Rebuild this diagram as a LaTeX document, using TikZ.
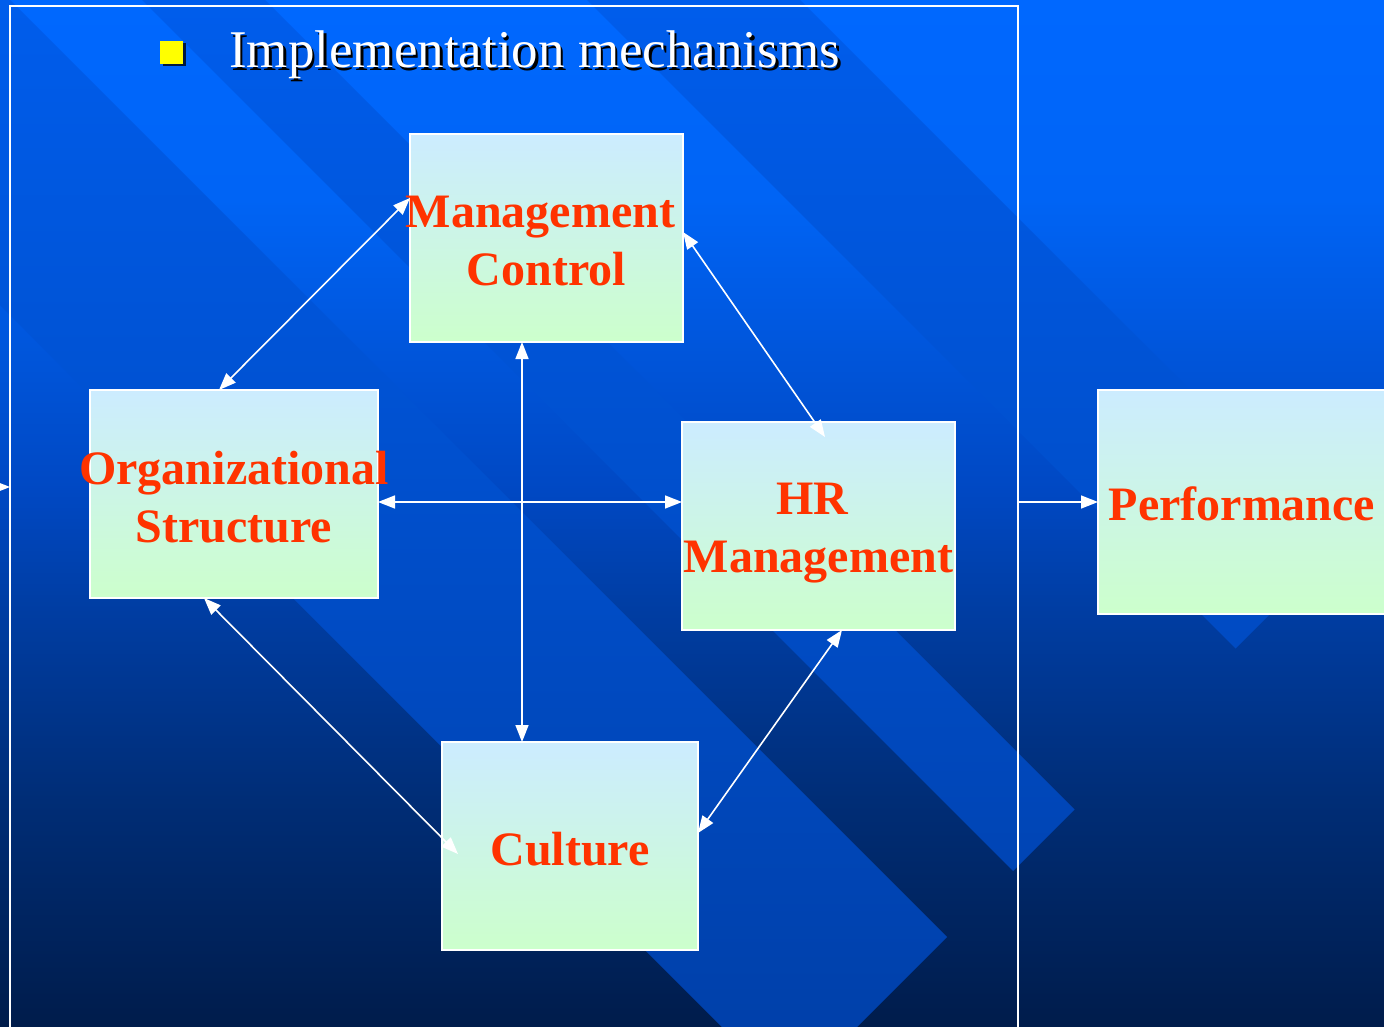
\documentclass[tikz,border=0pt]{standalone}
\usepackage{fontspec}
\setmainfont{Liberation Serif}
\usetikzlibrary{arrows.meta}
\definecolor{bgA}{RGB}{0,104,255}
\definecolor{bgB}{RGB}{0,100,245}
\definecolor{bgC}{RGB}{0,72,195}
\definecolor{bgD}{RGB}{0,62,165}
\definecolor{bgE}{RGB}{0,45,118}
\definecolor{bgF}{RGB}{0,28,75}
\definecolor{bandT}{RGB}{0,93,236}
\definecolor{bandB}{RGB}{0,64,170}
\definecolor{boxT}{RGB}{204,236,255}
\definecolor{boxB}{RGB}{204,255,204}
\definecolor{txtred}{RGB}{255,51,0}
\definecolor{bullety}{RGB}{255,255,0}
\pgfdeclareverticalshading{bgshade}{100bp}{color(0bp)=(bgF); color(25bp)=(bgF); color(36bp)=(bgE); color(45.8bp)=(bgD); color(51.1bp)=(bgC); color(65.3bp)=(bgB); color(75bp)=(bgA); color(100bp)=(bgA)}
\tikzset{
  blk/.style={draw=white, line width=1.3pt, top color=boxT, bottom color=boxB,
    minimum height=208pt, inner sep=0pt, outer sep=0pt},
  lbl/.style={font=\bfseries\fontsize{48}{58}\selectfont, text=txtred, align=center, inner sep=0pt},
  conn/.style={draw=white, line width=1.6pt,
    {Triangle[length=17pt,width=13pt]}-{Triangle[length=17pt,width=13pt]}},
  oneway/.style={draw=white, line width=1.6pt, -{Triangle[length=17pt,width=13pt]}},
  frm/.style={draw=white, line width=1.5pt, minimum width=1008pt, minimum height=1060pt,
    inner sep=0pt, outer sep=0pt},
  ttl/.style={anchor=base west, inner sep=0pt, font=\fontsize{53}{60}\selectfont},
}
\begin{document}
\begin{tikzpicture}[x=1pt,y=-1pt]
\useasboundingbox (0,0) rectangle (1384,1027);
\clip (0,0) rectangle (1384,1027);
% background
\shade[shading=bgshade] (0,0) rectangle (1384,1027);
% diagonal bands
\begin{scope}
  \clip (-60,-70) -- (947,937) -- (789.5,1094.5) -- (-60,245) -- cycle
        (245,-20) -- (1074.5,809.5) -- (1013,871) -- (122,-20) -- cycle
        (780,-20) -- (1342,542) -- (1235.5,648.5) -- (567,-20) -- cycle;
  \shade[top color=bandT, bottom color=bandB] (0,0) rectangle (1384,1027);
\end{scope}
% frame
\node[frm] (frame) at (514,536) {};
% boxes
\node[blk, minimum width=273pt] (mc) at (546.5,238) {};
\node[blk, minimum width=288pt] (os) at (234,494) {};
\node[blk, minimum width=273pt] (hr) at (818.5,526) {};
\node[blk, minimum width=256pt] (cu) at (570,846) {};
\node[blk, minimum width=288pt, minimum height=224pt] (pf) at (1242,502) {};
% labels
\node[lbl] (mct) at ([yshift=-3.5pt]mc.center) {Management\hspace*{12pt}\\Control};
\node[lbl] (ost) at ([yshift=-3pt]os.center) {Organizational\\Structure};
\node[lbl] (hrt) at ([yshift=-7pt]hr.center) {HR\hspace*{12pt}\\Management};
\node[lbl] (cut) at ([yshift=-3pt]cu.center) {Culture};
\node[lbl] (pft) at ([yshift=-2pt]pf.center) {Performance};
% connectors
\draw[conn] ([xshift=-15pt]os.north) -- ([yshift=-64pt]mc.north west);
\draw[conn] ([yshift=-98pt]mc.north east) -- ([xshift=143pt,yshift=-15pt]hr.north west);
\draw[conn] ([xshift=-24.5pt]mc.south) -- ([xshift=-48pt]cu.north);
\draw[conn] ([yshift=-8pt]os.east) -- ([yshift=24pt]hr.west);
\draw[conn] ([xshift=-30pt]os.south) -- ([xshift=16pt,yshift=-112pt]cu.north west);
\draw[conn] ([xshift=23.5pt]hr.south) -- ([yshift=13pt]cu.east);
\draw[oneway] (pf.west -| frame.east) -- (pf.west);
\coordinate (src) at (-30,487);
\draw[oneway] (src) -- (src -| frame.west);
% title
\fill[black, opacity=0.75] (162.5,43.5) rectangle (185.5,66.5);
\fill[bullety] (160,41) rectangle (183,64);
\node[ttl, text=black] (titsh) at (231.5,70.5) {Implementation mechanisms};
\node[ttl, text=white] (title) at (229,68) {Implementation mechanisms};
\end{tikzpicture}
\end{document}
